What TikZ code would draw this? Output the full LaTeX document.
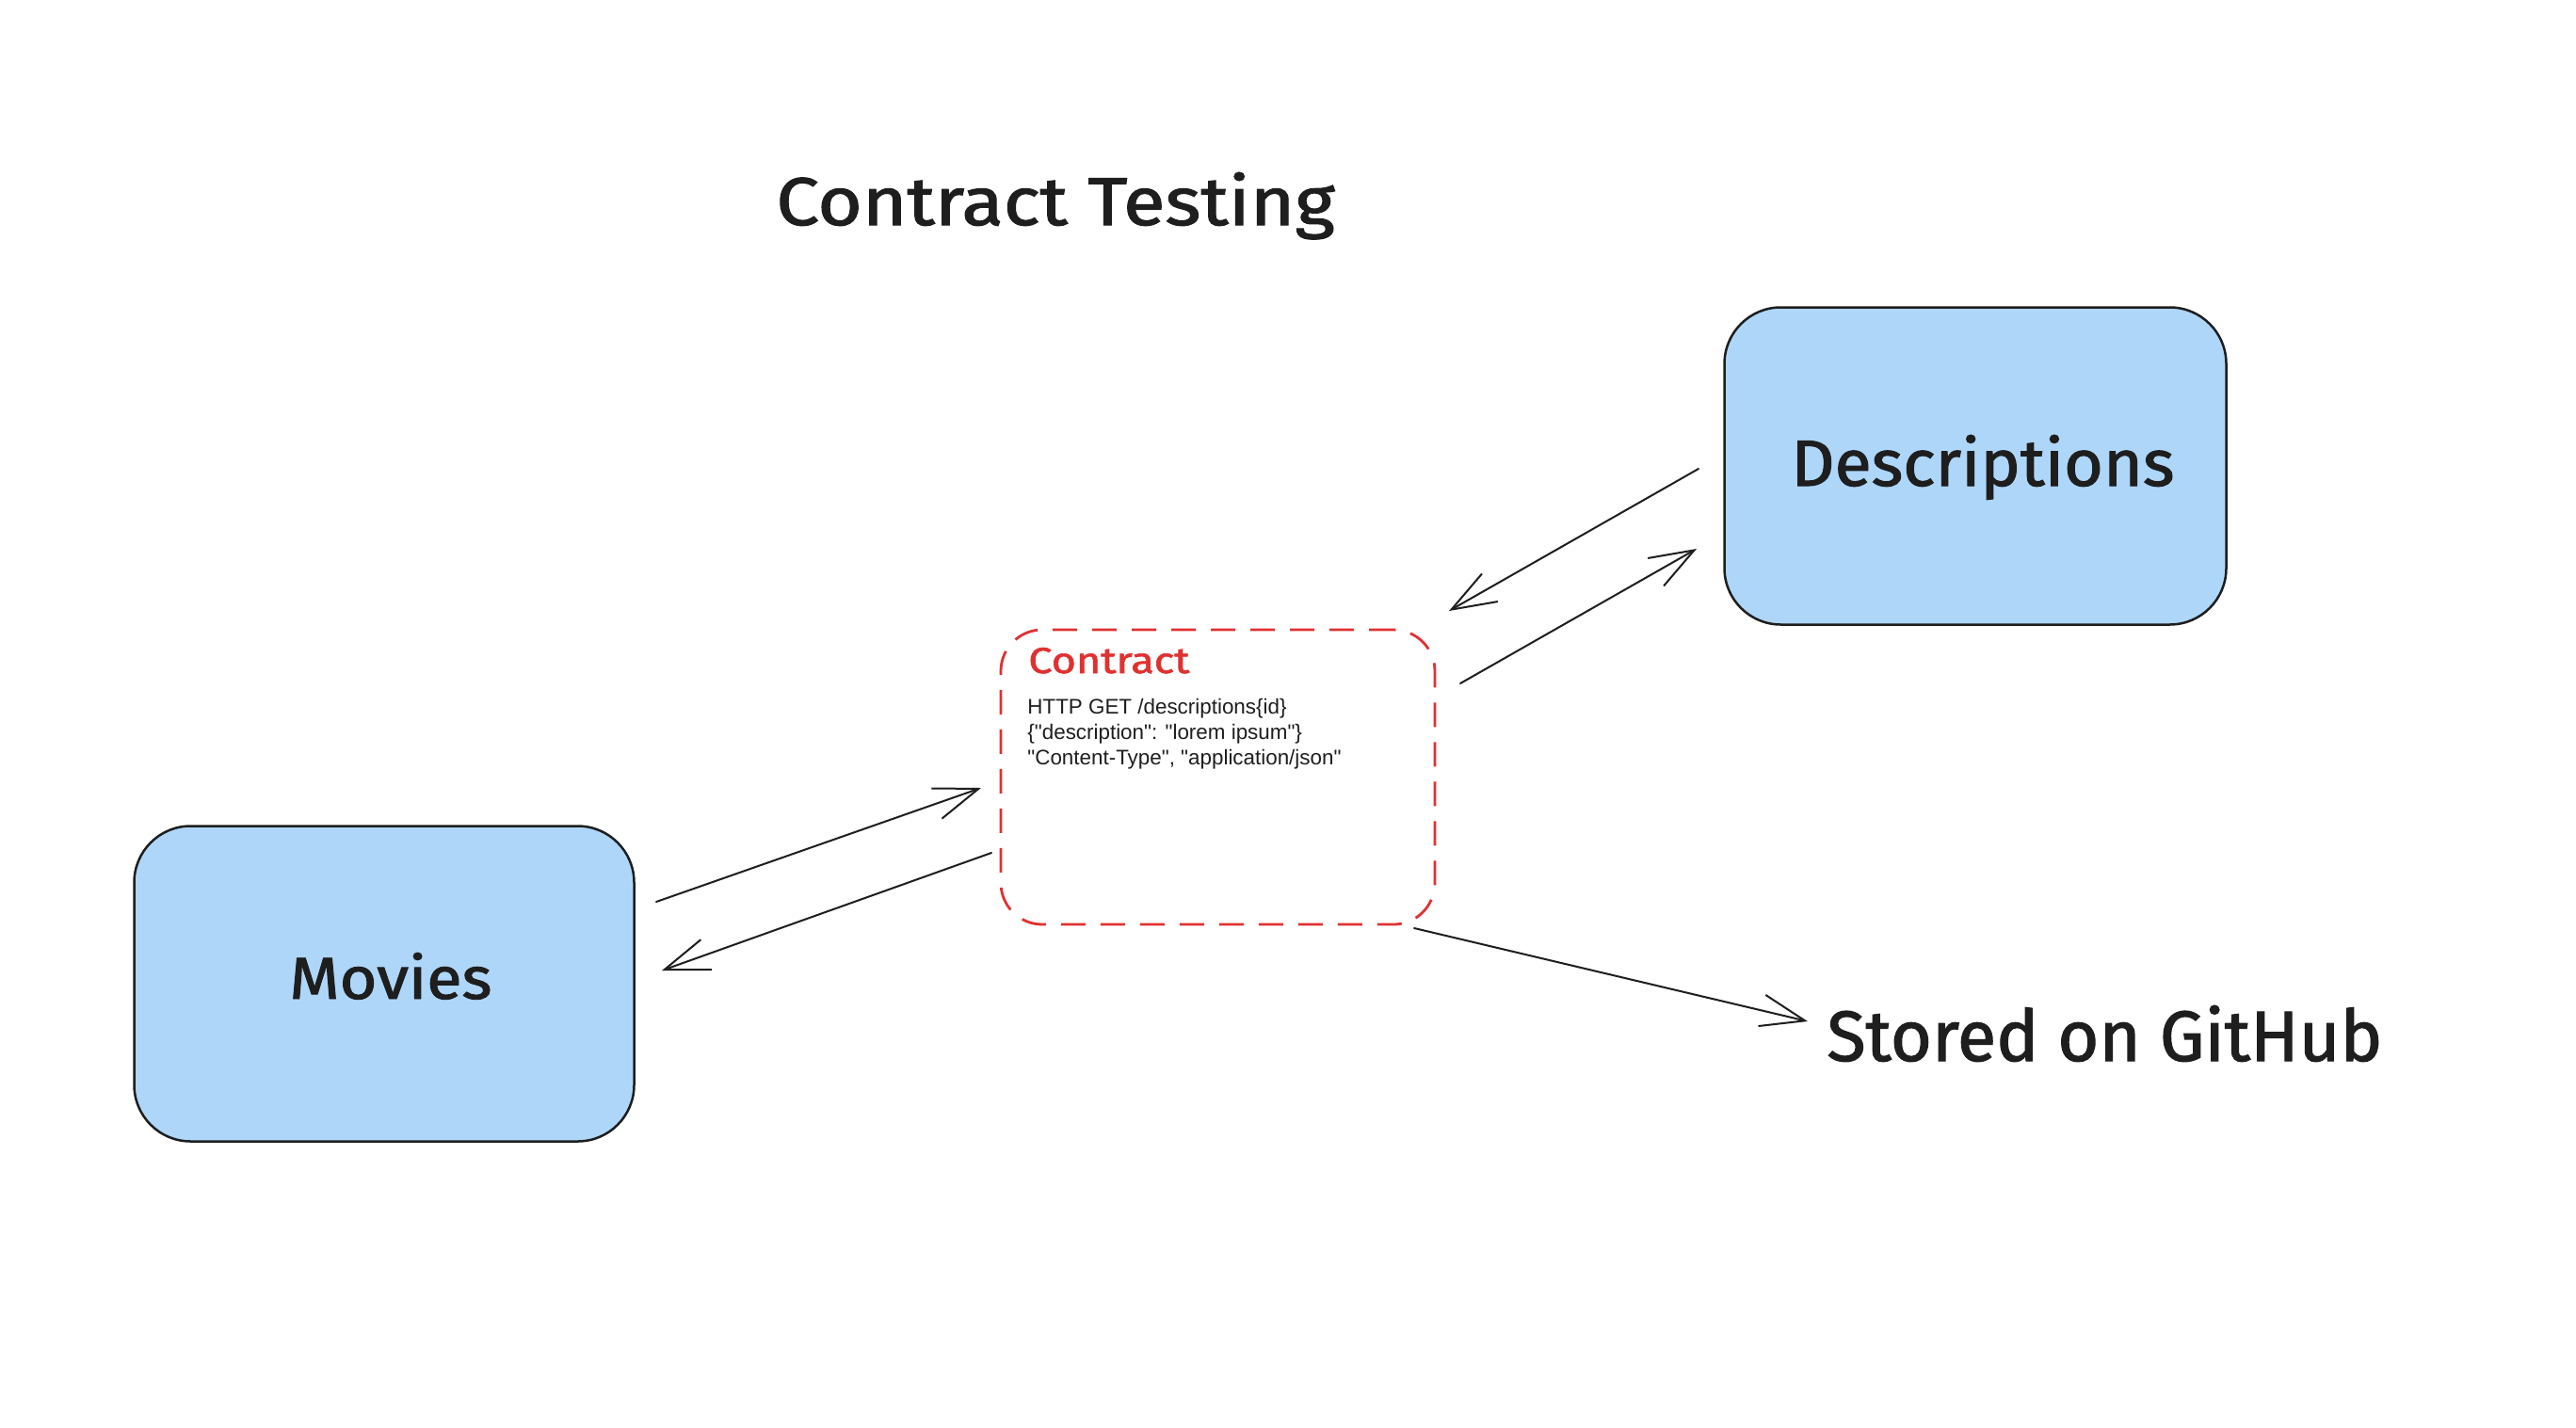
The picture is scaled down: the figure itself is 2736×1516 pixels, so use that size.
\documentclass[tikz,border=0pt]{standalone}
\usepackage{fontspec}
\setmainfont{Liberation Sans}[Ligatures=TeXOff]
\newfontfamily\handfont{Fira Sans}[FakeBold=1.5]
\usetikzlibrary{arrows.meta}
\definecolor{ink}{RGB}{30,30,30}
\definecolor{boxblue}{RGB}{174,214,249}
\definecolor{contractred}{RGB}{224,49,49}
\tikzset{
  svc/.style={draw=ink, fill=boxblue, line width=1.25pt, rounded corners=30pt, inner sep=0pt},
  contractbox/.style={draw=contractred, line width=1.4pt, dash pattern=on 13pt off 8pt, rounded corners=22pt, inner sep=0pt},
  flow/.style={draw=ink, line width=1pt, line cap=round, line join=round, -{Straight Barb[length=23.5pt, width=17pt, line width=1pt]}},
  lbl/.style={inner sep=0pt, anchor=base west, text=ink}
}
\begin{document}
\begin{tikzpicture}[x=0.5pt, y=-0.5pt]
\useasboundingbox[fill=white] (0,0) rectangle (2736,1516);
% title
\node[lbl] (title) at (824,239) {\handfont\resizebox{296.5pt}{28pt}{Contract Testing}};
% service boxes
\node[svc, minimum width=265.5pt, minimum height=167.5pt] (movies) at (408,1045) {};
\node[svc, minimum width=266.5pt, minimum height=168.5pt] (desc) at (2098,495) {};
\node[lbl] (movieslbl) at (307,1061) {\handfont\resizebox{107.5pt}{24.5pt}{Movies}};
\node[lbl] (desclbl) at (1902,516) {\handfont\resizebox{203.5pt}{27pt}{Descriptions}};
% contract box
\node[contractbox, minimum width=230.5pt, minimum height=156.5pt] (contract) at (1293.5,825.5) {};
\node[lbl, text=contractred] (contracttitle) at (1092,715) {\handfont\resizebox{85.5pt}{13.5pt}{Contract}};
\node[lbl, align=left, font=\fontsize{11.2pt}{13.5pt}\selectfont] (contracttext) at (1091,812)
  {HTTP GET /descriptions\{id\}\\\{"description": "lorem ipsum"\}\\"Content-Type", "application/json"};
% stored
\node[lbl] (stored) at (1940,1127) {\handfont\resizebox{295pt}{29.5pt}{Stored on GitHub}};
% connector end points
\coordinate (m1) at (697,958);
\coordinate (c1) at (1042,837);
\coordinate (c2) at (1053,906);
\coordinate (m2) at (703,1031);
\coordinate (d1) at (1804,498);
\coordinate (c3) at (1539,649);
\coordinate (c4) at (1551,726);
\coordinate (d2) at (1802,583);
\coordinate (c5) at (1502,986);
\coordinate (s1) at (1920,1085);
\draw[flow] (m1) -- (c1);
\draw[flow] (c2) -- (m2);
\draw[flow] (d1) -- (c3);
\draw[flow] (c4) -- (d2);
\draw[flow] (c5) -- (s1);
\end{tikzpicture}
\end{document}
